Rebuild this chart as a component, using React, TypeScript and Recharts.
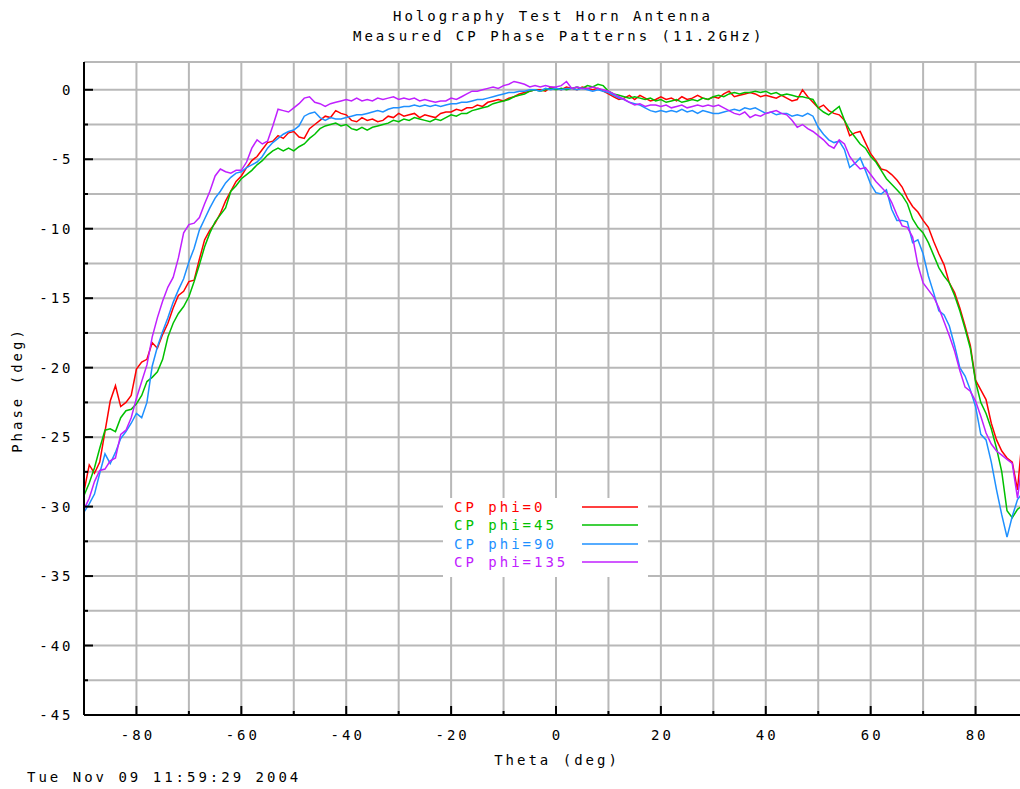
import React from "react";
import { LineChart, Line, XAxis, YAxis, CartesianGrid, Legend } from "recharts";

// theta sampled every degree, -90..90
const THETA: number[] = Array.from({ length: 181 }, (_, i) => i - 90);

// phase (deg), one value per degree of theta
const PHI0 = [
  -28.9, -27.0, -27.6, -26.8, -24.6, -22.4, -21.3, -22.8, -22.5, -22.0,
  -20.1, -19.6, -19.4, -18.2, -18.6, -17.6, -16.8, -15.7, -14.8, -14.5,
  -13.8, -13.7, -12.2, -10.8, -10.1, -9.6, -8.9, -8.0, -7.3, -6.6,
  -6.2, -5.6, -5.1, -4.8, -4.3, -3.8, -3.7, -3.3, -3.5, -3.1,
  -3.0, -3.4, -3.5, -2.8, -2.5, -2.2, -1.9, -2.0, -1.5, -1.7,
  -1.8, -2.2, -2.3, -2.0, -2.2, -2.1, -2.3, -2.2, -1.9, -2.0,
  -1.7, -1.9, -1.8, -1.7, -2.0, -1.8, -1.9, -2.0, -1.7, -1.6,
  -1.6, -1.4, -1.5, -1.3, -1.3, -1.1, -1.2, -0.9, -0.8, -0.7,
  -0.8, -0.6, -0.5, -0.3, -0.2, -0.1, 0.0, 0.0, -0.1, 0.2,
  0.1, 0.0, 0.2, 0.1, 0.0, 0.2, 0.1, 0.0, 0.1, -0.1,
  -0.3, -0.5, -0.7, -0.6, -0.4, -0.7, -0.4, -0.6, -0.8, -0.7,
  -0.5, -0.7, -0.6, -0.8, -0.5, -0.7, -0.6, -0.4, -0.6, -0.7,
  -0.5, -0.6, -0.3, -0.1, -0.5, -0.4, -0.3, -0.2, -0.3, -0.5,
  -0.4, -0.5, -0.6, -0.4, -0.6, -0.8, -0.7, 0.0, -0.5, -0.9,
  -1.3, -1.1, -1.5, -1.7, -1.8, -2.2, -3.3, -3.1, -3.0, -3.8,
  -4.6, -5.1, -5.7, -5.8, -6.1, -6.5, -7.0, -7.8, -8.4, -8.8,
  -9.4, -9.9, -10.9, -11.8, -12.6, -13.9, -14.6, -15.7, -17.0, -18.4,
  -20.9, -21.6, -22.3, -24.0, -25.2, -26.0, -26.5, -26.8, -28.8, -24.6,
  -24.5,
];

const PHI45 = [
  -29.2, -28.3, -27.2, -25.8, -24.5, -24.4, -24.6, -23.6, -23.1, -23.0,
  -22.6, -22.0, -21.0, -20.7, -20.3, -19.4, -17.8, -16.8, -16.1, -15.6,
  -14.9, -13.8, -12.6, -11.3, -10.3, -9.5, -9.0, -8.5, -7.3, -6.9,
  -6.4, -6.1, -5.8, -5.4, -5.1, -4.7, -4.4, -4.2, -4.4, -4.2,
  -4.4, -4.1, -3.9, -3.5, -3.2, -2.8, -2.6, -2.5, -2.4, -2.6,
  -2.5, -2.8, -2.9, -2.7, -2.9, -2.7, -2.6, -2.5, -2.4, -2.2,
  -2.3, -2.1, -2.2, -2.0, -2.1, -2.2, -2.3, -2.1, -2.2, -2.0,
  -1.8, -1.9, -1.7, -1.7, -1.5, -1.4, -1.3, -1.2, -1.0, -0.9,
  -0.8, -0.7, -0.5, -0.4, -0.3, -0.1, 0.0, -0.1, 0.0, 0.1,
  0.0, 0.1, 0.0, 0.1, 0.2, 0.1, 0.3, 0.2, 0.4, 0.3,
  -0.1, -0.3, -0.4, -0.5, -0.6, -0.5, -0.6, -0.7, -0.6, -0.8,
  -0.7, -0.9, -0.8, -0.7, -0.9, -0.8, -0.7, -0.8, -0.6, -0.7,
  -0.5, -0.4, -0.5, -0.3, -0.2, -0.3, -0.2, -0.2, -0.1, -0.2,
  -0.1, -0.3, -0.2, -0.4, -0.3, -0.4, -0.5, -0.5, -0.6, -0.7,
  -1.3, -1.6, -1.8, -1.5, -1.2, -2.2, -2.9, -3.4, -3.9, -4.2,
  -4.8, -5.2, -5.8, -6.4, -6.8, -7.2, -7.6, -8.2, -9.3, -9.9,
  -10.3, -11.0, -11.9, -12.8, -13.4, -13.9, -14.8, -15.9, -17.2, -18.6,
  -21.0, -22.5, -23.3, -24.4, -25.8, -27.5, -30.3, -30.8, -30.2, -29.9,
  -29.8,
];

const PHI90 = [
  -30.4, -29.8, -29.1, -27.6, -26.2, -26.9, -26.1, -25.1, -24.6, -24.0,
  -23.3, -23.6, -22.5, -19.9, -18.5, -17.4, -16.4, -15.3, -14.4, -13.6,
  -12.4, -11.4, -10.1, -9.3, -8.5, -7.8, -7.3, -6.7, -6.3, -6.0,
  -5.9, -5.6, -5.4, -5.2, -4.8, -4.2, -3.8, -3.5, -3.2, -3.0,
  -2.9, -2.6, -1.9, -1.7, -1.6, -2.0, -2.2, -2.0, -2.1, -2.1,
  -2.0, -1.9, -1.8, -1.8, -1.7, -1.6, -1.5, -1.6, -1.4, -1.3,
  -1.3, -1.2, -1.2, -1.1, -1.2, -1.1, -1.2, -1.1, -1.2, -1.1,
  -1.0, -1.0, -0.9, -0.9, -0.8, -0.7, -0.7, -0.6, -0.5, -0.4,
  -0.3, -0.2, -0.2, -0.1, -0.1, 0.0, 0.0, -0.1, 0.1, 0.0,
  0.1, 0.0, 0.1, 0.1, 0.0, 0.1, 0.0, -0.1, 0.0, -0.1,
  -0.2, -0.4, -0.6, -0.7, -0.9, -1.0, -1.1, -1.3, -1.5, -1.6,
  -1.5, -1.6, -1.5, -1.6, -1.4, -1.6, -1.5, -1.7, -1.5, -1.6,
  -1.7, -1.7, -1.6, -1.5, -1.4, -1.5, -1.3, -1.4, -1.3, -1.5,
  -1.7, -1.6, -1.8, -1.7, -1.7, -1.9, -1.8, -1.9, -1.7, -1.9,
  -2.7, -3.2, -3.6, -3.8, -3.7, -4.3, -5.6, -5.3, -4.9, -5.8,
  -6.8, -7.4, -7.5, -7.2, -8.6, -9.4, -9.4, -9.5, -11.0, -10.8,
  -11.8, -13.4, -14.6, -15.9, -16.2, -17.0, -18.4, -20.0, -20.6, -21.6,
  -22.8, -24.8, -25.2, -26.8, -28.8, -30.6, -32.2, -30.7, -29.5, -29.0,
  -28.8,
];

const PHI135 = [
  -30.2, -29.4, -28.2, -27.4, -27.3, -26.7, -26.5, -24.8, -24.5, -23.6,
  -22.2, -21.0, -19.8, -17.8, -16.4, -15.2, -14.2, -13.5, -12.1, -10.3,
  -9.7, -9.6, -9.2, -8.2, -7.3, -6.2, -5.7, -5.9, -6.0, -5.8,
  -5.8, -5.2, -4.2, -3.6, -3.9, -3.7, -2.6, -1.4, -1.5, -1.6,
  -1.3, -1.0, -0.6, -0.5, -0.9, -1.0, -1.2, -1.0, -0.9, -0.8,
  -0.7, -0.8, -0.6, -0.8, -0.7, -0.8, -0.6, -0.7, -0.6, -0.5,
  -0.7, -0.6, -0.7, -0.6, -0.8, -0.7, -0.8, -0.9, -0.8, -0.8,
  -0.6, -0.7, -0.5, -0.3, -0.1, -0.1, 0.0, 0.1, 0.2, 0.1,
  0.3, 0.4, 0.6, 0.5, 0.4, 0.2, 0.3, 0.2, 0.3, 0.2,
  0.2, 0.3, 0.6, 0.1, 0.2, 0.1, 0.1, 0.2, 0.1, 0.0,
  -0.1, -0.3, -0.5, -0.7, -0.9, -1.1, -1.0, -1.2, -1.1, -1.1,
  -1.2, -1.1, -1.3, -1.2, -1.1, -1.3, -1.2, -1.1, -1.2, -1.1,
  -1.2, -1.1, -1.3, -1.5, -1.7, -1.8, -1.6, -2.0, -1.8, -1.9,
  -1.7, -1.6, -1.5, -1.7, -1.8, -2.2, -2.7, -2.5, -2.8, -3.0,
  -3.3, -3.6, -4.0, -4.2, -3.6, -3.9, -4.8, -5.3, -5.7, -5.6,
  -6.1, -6.6, -7.0, -7.4, -8.1, -9.0, -9.8, -9.9, -10.6, -12.6,
  -13.9, -14.4, -14.9, -15.7, -16.7, -17.7, -18.8, -20.2, -21.4, -21.7,
  -22.4, -23.5, -24.7, -25.5, -26.0, -26.3, -26.6, -26.9, -29.4, -26.5,
  -26.4,
];

const SERIES_NAMES = ["CP phi=0", "CP phi=45", "CP phi=90", "CP phi=135"];
const SERIES_KEYS = ["p0", "p45", "p90", "p135"];
const SERIES_COLORS = ["#ff0000", "#00c000", "#1e90ff", "#c020ff"];

const X_TICKS = [-90, -80, -70, -60, -50, -40, -30, -20, -10, 0, 10, 20, 30, 40, 50, 60, 70, 80, 90];
const Y_TICKS = [
  -45, -42.5, -40, -37.5, -35, -32.5, -30, -27.5, -25, -22.5,
  -20, -17.5, -15, -12.5, -10, -7.5, -5, -2.5, 0,
];

const TITLE = ["Holography Test Horn Antenna", "Measured CP Phase Patterns (11.2GHz)"];
const X_TITLE = "Theta (deg)";
const Y_TITLE = "Phase (deg)";
const STAMP = "Tue Nov 09 11:59:29 2004";

const data = THETA.map((t, i) => ({
  theta: t,
  p0: PHI0[i],
  p45: PHI45[i],
  p90: PHI90[i],
  p135: PHI135[i],
}));

const MONO = "'DejaVu Sans Mono', 'Liberation Mono', monospace";
const PLOT_LEFT = 84;
const PLOT_TOP = 62;
const PLOT_BOTTOM = 715;

const textProps = { fontFamily: MONO, fontSize: 14, letterSpacing: 3, fill: "#000" };

const XTick = (props: any) => {
  const { x, payload } = props;
  const v = payload.value;
  const major = v % 20 === 0;
  return (
    <g>
      <line x1={x} x2={x} y1={PLOT_BOTTOM} y2={PLOT_BOTTOM - (major ? 9 : 4)} stroke="#000" strokeWidth={2} />
      {major && (
        <text x={x + 1.5} y={PLOT_BOTTOM + 25} textAnchor="middle" {...textProps}>
          {String(v)}
        </text>
      )}
    </g>
  );
};

const TopTick = (props: any) => {
  const { x, payload } = props;
  const major = payload.value % 20 === 0;
  return <line x1={x} x2={x} y1={PLOT_TOP} y2={PLOT_TOP + (major ? 9 : 4)} stroke="#000" strokeWidth={2} />;
};

const YTick = (props: any) => {
  const { y, payload } = props;
  const v = payload.value;
  const major = v % 5 === 0;
  return (
    <g>
      <line x1={PLOT_LEFT} x2={PLOT_LEFT + (major ? 9 : 4)} y1={y} y2={y} stroke="#000" strokeWidth={2} />
      {major && (
        <text x={73.5} y={y + 5} textAnchor="end" {...textProps}>
          {String(v)}
        </text>
      )}
    </g>
  );
};

const XTitle = () => (
  <text x={557} y={765} textAnchor="middle" {...textProps}>
    {X_TITLE}
  </text>
);

const YTitle = () => (
  <text x={22} y={390} transform="rotate(-90 22 390)" textAnchor="middle" {...textProps}>
    {Y_TITLE}
  </text>
);

const LegendBox = (props: any) => {
  const entries = [...(props.payload || [])].sort(
    (a: any, b: any) => SERIES_NAMES.indexOf(a.value) - SERIES_NAMES.indexOf(b.value)
  );
  return (
    <div style={{ background: "#fff", width: 205, height: 79, paddingLeft: 11, paddingTop: 0, boxSizing: "border-box" }}>
      {entries.map((entry: any) => (
        <div
          key={entry.value}
          style={{ display: "flex", alignItems: "center", height: 18.3, color: entry.color, fontFamily: MONO, fontSize: 14, letterSpacing: 3 }}
        >
          <span style={{ width: 128, whiteSpace: "pre", lineHeight: "18px" }}>{entry.value}</span>
          <svg width={56} height={6} style={{ display: "block" }}>
            <line x1={0} x2={56} y1={3} y2={3} stroke={entry.color} strokeWidth={1.5} />
          </svg>
        </div>
      ))}
    </div>
  );
};

export default function App() {
  return (
    <div style={{ position: "absolute", left: 0, top: 0, width: 1020, height: 789, overflow: "hidden", background: "#fff" }}>
      <div
        style={{
          position: "absolute",
          top: 7,
          left: 350,
          width: 400,
          textAlign: "center",
          fontFamily: MONO,
          fontSize: 14,
          letterSpacing: 3,
          lineHeight: "19.5px",
          whiteSpace: "pre",
          paddingLeft: 3,
        }}
      >
        {TITLE.map((t) => (
          <div key={t}>{t}</div>
        ))}
      </div>
      <LineChart width={1028} height={789} data={data} margin={{ top: PLOT_TOP, right: 0, bottom: 0, left: 0 }}>
        <CartesianGrid stroke="#b8b8b8" strokeWidth={2} />
        <XAxis
          dataKey="theta"
          type="number"
          domain={[-90, 90]}
          ticks={X_TICKS}
          interval={0}
          height={74}
          axisLine={{ stroke: "#000", strokeWidth: 2 }}
          tickLine={false}
          tick={XTick}
          label={{ content: XTitle }}
        />
        <XAxis
          xAxisId="top"
          orientation="top"
          dataKey="theta"
          type="number"
          domain={[-90, 90]}
          ticks={X_TICKS}
          interval={0}
          height={0}
          axisLine={{ stroke: "#000", strokeWidth: 2 }}
          tickLine={false}
          tick={TopTick}
        />
        <YAxis
          type="number"
          domain={[-45, 2]}
          ticks={Y_TICKS}
          interval={0}
          width={PLOT_LEFT}
          axisLine={{ stroke: "#000", strokeWidth: 2 }}
          tickLine={false}
          tick={YTick}
          label={{ content: YTitle }}
        />
        <Legend
          content={LegendBox}
          layout="horizontal"
          verticalAlign="middle"
          align="center"
          wrapperStyle={{ left: 443, top: 498, width: 205, height: 79 }}
        />
        {SERIES_KEYS.map((k, i) => (
          <Line
            key={k}
            dataKey={k}
            name={SERIES_NAMES[i]}
            stroke={SERIES_COLORS[i]}
            strokeWidth={1.5}
            dot={false}
            type="linear"
            isAnimationActive={false}
          />
        ))}
      </LineChart>
      <div
        style={{
          position: "absolute",
          top: 768,
          left: 27,
          fontFamily: MONO,
          fontSize: 14,
          letterSpacing: 3,
          lineHeight: "19.5px",
          whiteSpace: "pre",
        }}
      >
        {STAMP}
      </div>
    </div>
  );
}
